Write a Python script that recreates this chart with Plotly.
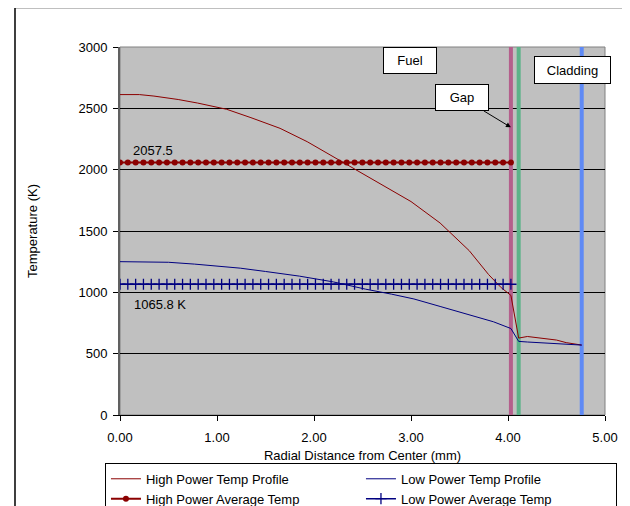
import numpy as np
import plotly.graph_objects as go

# ---------------- data ----------------
# High power temperature profile (radial distance mm, temperature K)
high_r = [0.00, 0.20, 0.35, 0.60, 0.80, 1.10, 1.35, 1.65, 1.93, 2.10, 2.30, 2.68,
          3.00, 3.30, 3.60, 3.80, 3.93, 4.03, 4.11, 4.20, 4.40, 4.50, 4.60, 4.76]
high_T = [2612, 2612, 2600, 2572, 2543, 2492, 2424, 2337, 2228, 2150, 2055, 1885,
          1740, 1565, 1340, 1145, 1038, 975, 627, 640, 620, 611, 590, 570]

# Low power temperature profile
low_r = [0.00, 0.30, 0.50, 0.77, 1.00, 1.24, 1.50, 1.85, 2.20, 2.53, 2.80, 3.03,
         3.30, 3.61, 3.85, 4.03, 4.11, 4.20, 4.50, 4.76]
low_T = [1250, 1250, 1245, 1230, 1215, 1197, 1170, 1132, 1085, 1026, 985, 946,
         885, 818, 760, 705, 600, 595, 583, 570]

# Average temperatures (constant over the fuel pellet)
high_avg = 2057.5
low_avg = 1065.8
fuel_radius = 4.03
n_nodes = 51
fuel_nodes = np.linspace(0.0, fuel_radius, n_nodes)

# Region boundaries (fuel surface, cladding inner, cladding outer)
boundary_r = [4.03, 4.11, 4.76]
boundary_colors = ["#b45f8c", "#5cb389", "#5f8af5"]

y_ticks = [0, 500, 1000, 1500, 2000, 2500, 3000]
x_ticks = [0, 1, 2, 3, 4, 5]

FONT = "Arial, Liberation Sans, sans-serif"

fig = go.Figure()

# boundary lines (drawn first, underneath the curves)
for r, c in zip(boundary_r, boundary_colors):
    fig.add_trace(go.Scatter(x=[r, r], y=[y_ticks[0], y_ticks[-1]], mode="lines",
                             line=dict(color=c, width=4), showlegend=False,
                             hoverinfo="skip"))

fig.add_trace(go.Scatter(x=high_r, y=high_T, mode="lines",
                         name="High Power Temp Profile",
                         line=dict(color="#8b0000", width=1)))
fig.add_trace(go.Scatter(x=low_r, y=low_T, mode="lines",
                         name="Low Power Temp Profile",
                         line=dict(color="#000080", width=1)))
fig.add_trace(go.Scatter(x=fuel_nodes, y=[high_avg] * n_nodes, mode="lines+markers",
                         name="High Power Average Temp",
                         line=dict(color="#8b0000", width=2),
                         marker=dict(symbol="circle", size=6, color="#8b0000")))
fig.add_trace(go.Scatter(x=fuel_nodes, y=[low_avg] * n_nodes, mode="lines+markers",
                         name="Low Power Average Temp",
                         line=dict(color="#000080", width=1.5),
                         marker=dict(symbol="cross-thin", size=8,
                                     line=dict(color="#000080", width=1.3))))

annotations = [
    dict(x=2.99, y=2888, xref="x", yref="y", text="Fuel", showarrow=False,
         bgcolor="white", bordercolor="black", borderwidth=1, borderpad=0,
         width=52, height=25, font=dict(family=FONT, size=13, color="black")),
    dict(x=4.03, y=2345, xref="x", yref="y", ax=3.53, ay=2585, axref="x", ayref="y",
         text="Gap", showarrow=True, arrowhead=2, arrowsize=1, arrowwidth=1,
         arrowcolor="black", bgcolor="white", bordercolor="black", borderwidth=1,
         borderpad=0, width=52, height=25,
         font=dict(family=FONT, size=13, color="black")),
    dict(x=4.66, y=2809, xref="x", yref="y", text="Cladding", showarrow=False,
         bgcolor="white", bordercolor="black", borderwidth=1, borderpad=0,
         width=75, height=26, font=dict(family=FONT, size=13, color="black")),
    dict(x=0.11, y=2158, xref="x", yref="y", text="2057.5", showarrow=False,
         xanchor="left", font=dict(family=FONT, size=13, color="black")),
    dict(x=0.12, y=904, xref="x", yref="y", text="1065.8 K", showarrow=False,
         xanchor="left", font=dict(family=FONT, size=13, color="black")),
]

shapes = [
    # outer chart border
    dict(type="rect", xref="paper", yref="paper", x0=-0.2165, x1=1.0371,
         y0=-0.27, y1=1.1072, line=dict(color="black", width=1.5),
         fillcolor="rgba(0,0,0,0)", layer="below"),
    # plot area border
    dict(type="rect", xref="paper", yref="paper", x0=0, x1=1, y0=0, y1=1,
         line=dict(color="#808080", width=1), layer="below"),
]

fig.update_layout(
    width=622, height=498,
    margin=dict(l=112, r=25, t=38.5, b=91, autoexpand=False),
    paper_bgcolor="white", plot_bgcolor="#c0c0c0",
    font=dict(family=FONT, size=13, color="black"),
    annotations=annotations, shapes=shapes,
    legend=dict(orientation="h", x=-0.031, y=-0.130, xanchor="left", yanchor="top",
                entrywidth=210, entrywidthmode="pixels", itemwidth=30,
                bgcolor="white", bordercolor="black", borderwidth=1,
                font=dict(family=FONT, size=13, color="black"),
                tracegroupgap=0, itemclick=False),
    showlegend=True,
)

fig.update_xaxes(range=[0, 5], tickvals=x_ticks, tickformat=".2f",
                 ticks="outside", ticklen=5, tickcolor="black",
                 showline=True, linecolor="black", linewidth=1,
                 showgrid=False, zeroline=False, automargin=False,
                 ticklabelstandoff=5,
                 title=dict(text="Radial Distance from Center (mm)",
                            font=dict(family=FONT, size=13), standoff=7),
                 tickfont=dict(family=FONT, size=13))
fig.update_yaxes(range=[0, 3000], tickvals=y_ticks,
                 ticks="outside", ticklen=5, tickcolor="black",
                 showline=True, linecolor="#606060", linewidth=2,
                 showgrid=True, gridcolor="black", gridwidth=1,
                 zeroline=False, automargin=False, ticklabelstandoff=3,
                 title=dict(text="Temperature (K)",
                            font=dict(family=FONT, size=13), standoff=38),
                 tickfont=dict(family=FONT, size=13))

fig.write_html("out.html")
